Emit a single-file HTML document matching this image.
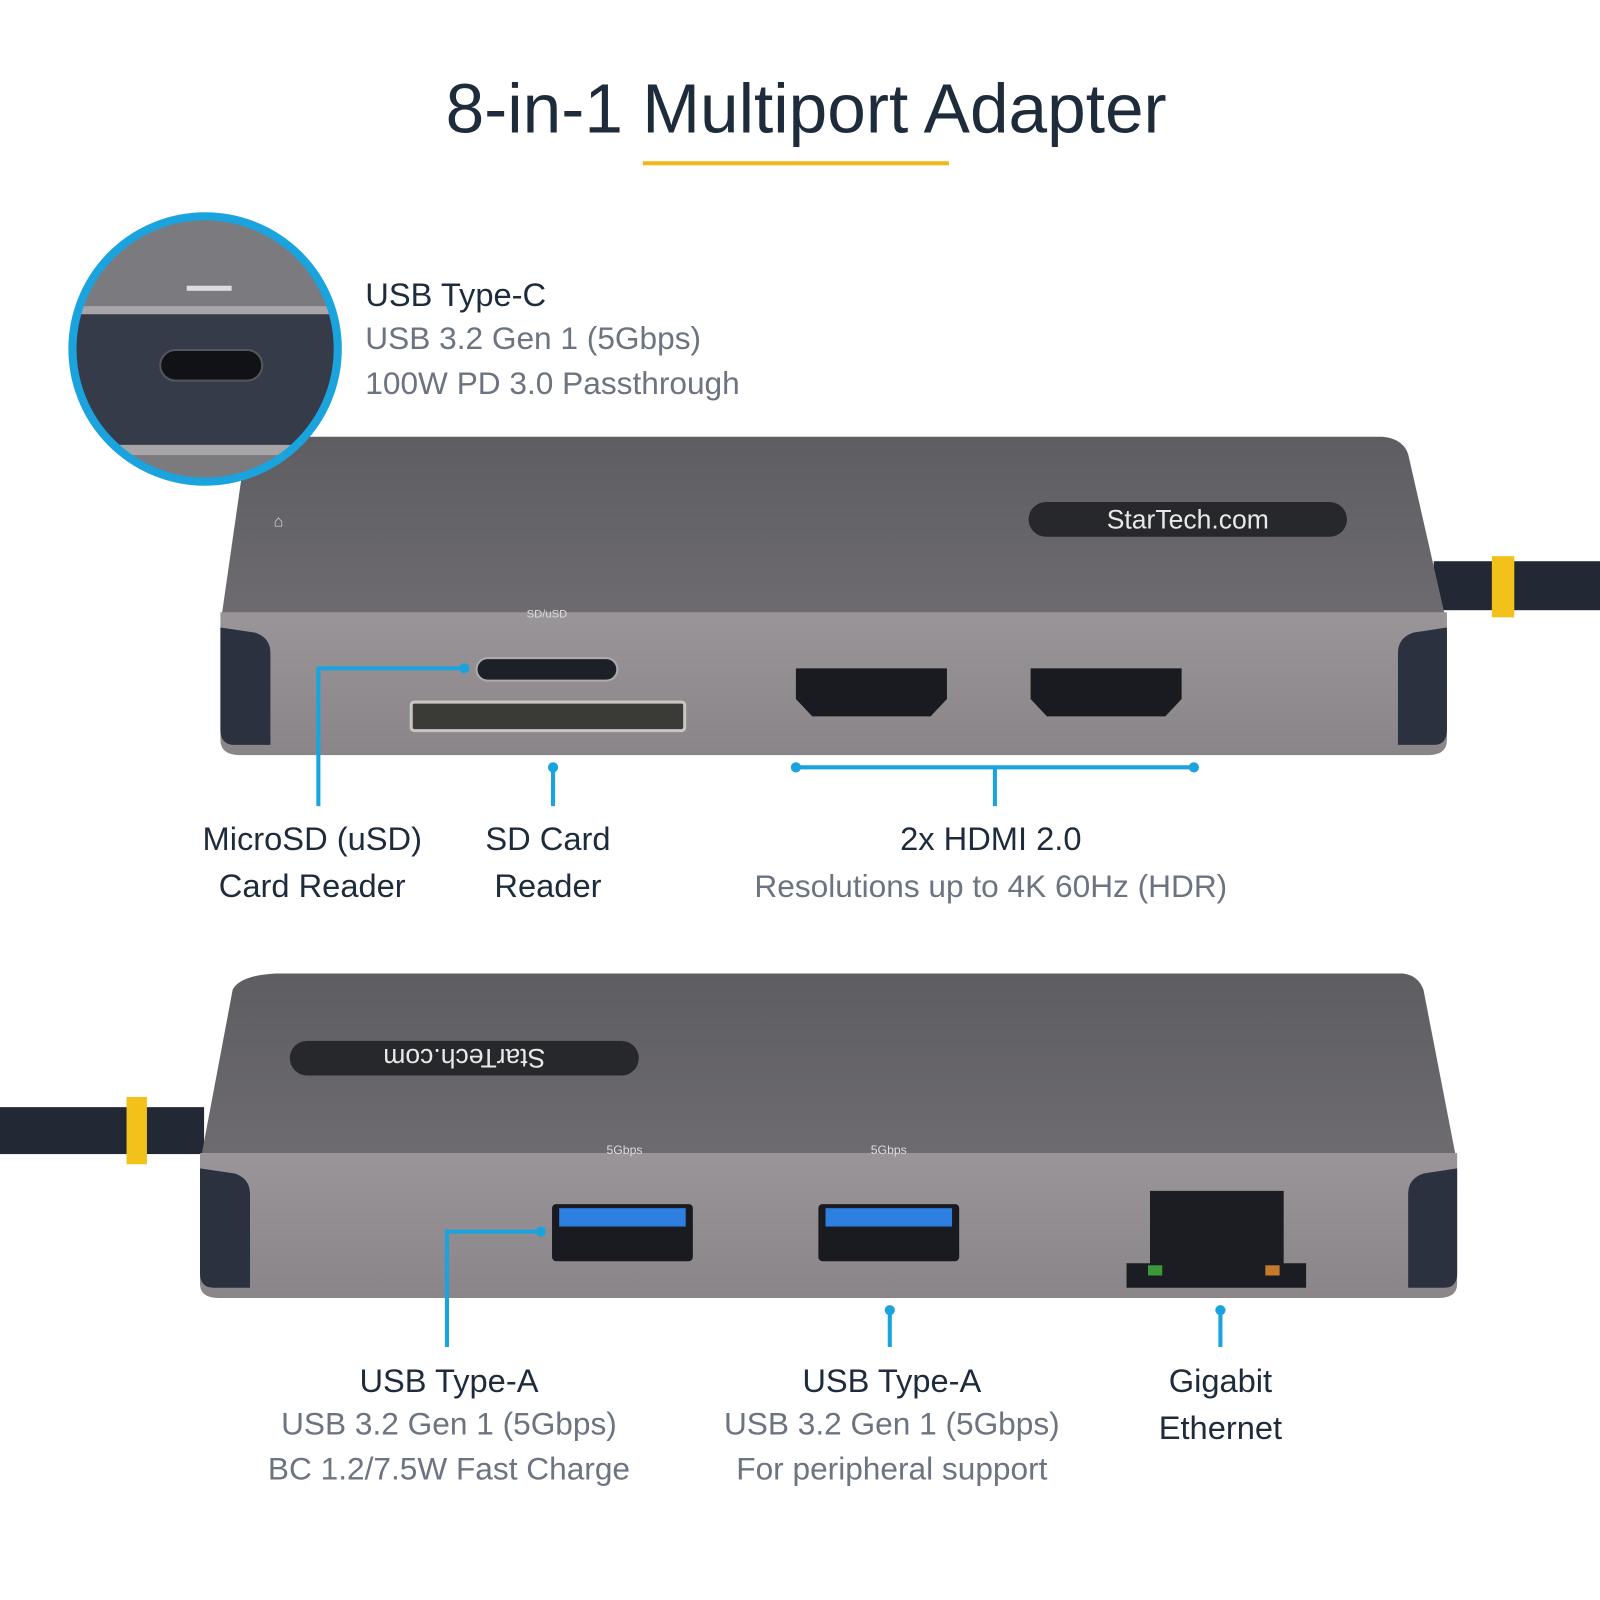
<!DOCTYPE html>
<html><head><meta charset="utf-8"><style>
html,body{margin:0;padding:0;background:#fff}
svg{display:block}
text{font-family:"Liberation Sans",sans-serif}
.h{fill:#1e2b3b;font-size:32px}
.s{fill:#6b7480;font-size:31px}
</style></head><body>
<svg width="1600" height="1600" viewBox="0 0 1568 1568" xmlns="http://www.w3.org/2000/svg">
<defs>
<linearGradient id="top" x1="0" y1="0" x2="0" y2="1"><stop offset="0" stop-color="#5e5d62"/><stop offset="1" stop-color="#6e6c70"/></linearGradient>
<linearGradient id="front" x1="0" y1="0" x2="0" y2="1"><stop offset="0" stop-color="#9a9598"/><stop offset="1" stop-color="#8a8588"/></linearGradient>
<clipPath id="cc"><circle cx="201" cy="342" r="130"/></clipPath>
</defs>
<text x="790" y="130" text-anchor="middle" font-size="68" fill="#1e2b3b">8-in-1 Multiport Adapter</text>
<rect x="630" y="158" width="300" height="4" fill="#f2b51c"/>

<!-- top device cable -->
<rect x="1405" y="550" width="170" height="48" fill="#222834"/>
<rect x="1462" y="545" width="22" height="60" fill="#f3c21a"/>
<!-- top device -->
<path d="M262 428 L1355 428 Q1375 430 1380 445 L1418 612 L216 612 L240 445 Q245 430 262 428Z" fill="url(#top)"/>
<path d="M216 600 L1418 600 L1418 725 Q1418 740 1400 740 L235 740 Q216 740 216 725Z" fill="url(#front)"/>
<path d="M216 615 L250 620 Q265 625 265 640 L265 730 L230 730 Q216 730 216 715Z" fill="#2c3140"/>
<path d="M1418 615 L1385 620 Q1370 625 1370 640 L1370 730 L1405 730 Q1418 730 1418 715Z" fill="#2c3140"/>
<rect x="1008" y="492" width="312" height="34" rx="17" fill="#26282c"/>
<text x="1164" y="518" text-anchor="middle" font-size="26" fill="#e8e8e8">StarTech.com</text>
<text x="536" y="605" text-anchor="middle" font-size="11" fill="#ddd">SD/uSD</text>
<rect x="467" y="645" width="138" height="22" rx="11" fill="#1e2027" stroke="#b0acae" stroke-width="2"/>
<rect x="403" y="688" width="268" height="28" rx="3" fill="#3a3a36" stroke="#c9c5c2" stroke-width="3"/>
<path d="M780 655 L928 655 L928 685 L912 702 L796 702 L780 685Z" fill="#1a1b20"/>
<path d="M1010 655 L1158 655 L1158 685 L1142 702 L1026 702 L1010 685Z" fill="#1a1b20"/>
<text x="268" y="516" font-size="16" fill="#ddd">⌂</text>

<!-- connectors top -->
<g stroke="#1aa3dd" stroke-width="4" fill="none">
<path d="M312 790 L312 655 L455 655"/>
<path d="M542 752 L542 790"/>
<path d="M780 752 L1170 752 M975 752 L975 790"/>
</g>
<g fill="#1aa3dd"><circle cx="455" cy="655" r="5"/><circle cx="542" cy="752" r="5"/><circle cx="780" cy="752" r="5"/><circle cx="1170" cy="752" r="5"/></g>

<!-- circle inset -->
<g clip-path="url(#cc)">
<rect x="60" y="200" width="290" height="300" fill="#7b7a7e"/>
<rect x="60" y="300" width="290" height="8" fill="#a8a5a8"/>
<rect x="60" y="308" width="290" height="128" fill="#363b4a"/>
<rect x="60" y="436" width="290" height="10" fill="#a8a5a8"/>
<rect x="157" y="343" width="100" height="30" rx="15" fill="#111216" stroke="#55565c" stroke-width="2"/>
<rect x="183" y="280" width="44" height="5" fill="#ddd"/>
</g>
<circle cx="201" cy="342" r="130" fill="none" stroke="#1aa3dd" stroke-width="8"/>

<text x="358" y="300" class="h">USB Type-C</text>
<text x="358" y="342" class="s">USB 3.2 Gen 1 (5Gbps)</text>
<text x="358" y="386" class="s">100W PD 3.0 Passthrough</text>

<text x="306" y="833" text-anchor="middle" class="h">MicroSD (uSD)</text>
<text x="306" y="879" text-anchor="middle" class="h">Card Reader</text>
<text x="537" y="833" text-anchor="middle" class="h">SD Card</text>
<text x="537" y="879" text-anchor="middle" class="h">Reader</text>
<text x="971" y="833" text-anchor="middle" class="h">2x HDMI 2.0</text>
<text x="971" y="879" text-anchor="middle" class="s">Resolutions up to 4K 60Hz (HDR)</text>

<!-- bottom device cable -->
<rect x="0" y="1085" width="200" height="46" fill="#222834"/>
<rect x="124" y="1075" width="20" height="66" fill="#f3c21a"/>
<path d="M270 954 L1375 954 Q1390 956 1395 970 L1428 1140 L196 1140 L228 970 Q235 956 270 954Z" fill="url(#top)"/>
<path d="M196 1130 L1428 1130 L1428 1258 Q1428 1272 1410 1272 L214 1272 Q196 1272 196 1258Z" fill="url(#front)"/>
<path d="M196 1145 L230 1150 Q245 1155 245 1170 L245 1262 L210 1262 Q196 1262 196 1248Z" fill="#2c3140"/>
<path d="M1428 1145 L1395 1150 Q1380 1155 1380 1170 L1380 1262 L1415 1262 Q1428 1262 1428 1248Z" fill="#2c3140"/>
<rect x="284" y="1020" width="342" height="34" rx="17" fill="#26282c"/>
<text x="455" y="1046" text-anchor="middle" font-size="26" fill="#e8e8e8" transform="rotate(180 455 1037)">StarTech.com</text>
<text x="612" y="1131" text-anchor="middle" font-size="12" fill="#ddd">5Gbps</text>
<text x="871" y="1131" text-anchor="middle" font-size="12" fill="#ddd">5Gbps</text>
<rect x="541" y="1180" width="138" height="56" rx="4" fill="#1a1b20"/>
<rect x="548" y="1184" width="124" height="18" fill="#2d7fe0"/>
<rect x="802" y="1180" width="138" height="56" rx="4" fill="#1a1b20"/>
<rect x="809" y="1184" width="124" height="18" fill="#2d7fe0"/>
<path d="M1127 1167 L1258 1167 L1258 1238 L1280 1238 L1280 1262 L1104 1262 L1104 1238 L1127 1238Z" fill="#1c1d22"/>
<rect x="1125" y="1240" width="14" height="10" fill="#3a9a3a"/>
<rect x="1240" y="1240" width="14" height="10" fill="#c47a2a"/>

<g stroke="#1aa3dd" stroke-width="4" fill="none">
<path d="M438 1320 L438 1207 L530 1207"/>
<path d="M872 1284 L872 1320"/>
<path d="M1196 1284 L1196 1320"/>
</g>
<g fill="#1aa3dd"><circle cx="530" cy="1207" r="5"/><circle cx="872" cy="1284" r="5"/><circle cx="1196" cy="1284" r="5"/></g>

<text x="440" y="1364" text-anchor="middle" class="h">USB Type-A</text>
<text x="440" y="1406" text-anchor="middle" class="s">USB 3.2 Gen 1 (5Gbps)</text>
<text x="440" y="1450" text-anchor="middle" class="s">BC 1.2/7.5W Fast Charge</text>
<text x="874" y="1364" text-anchor="middle" class="h">USB Type-A</text>
<text x="874" y="1406" text-anchor="middle" class="s">USB 3.2 Gen 1 (5Gbps)</text>
<text x="874" y="1450" text-anchor="middle" class="s">For peripheral support</text>
<text x="1196" y="1364" text-anchor="middle" class="h">Gigabit</text>
<text x="1196" y="1410" text-anchor="middle" class="h">Ethernet</text>
</svg>
</body></html>
